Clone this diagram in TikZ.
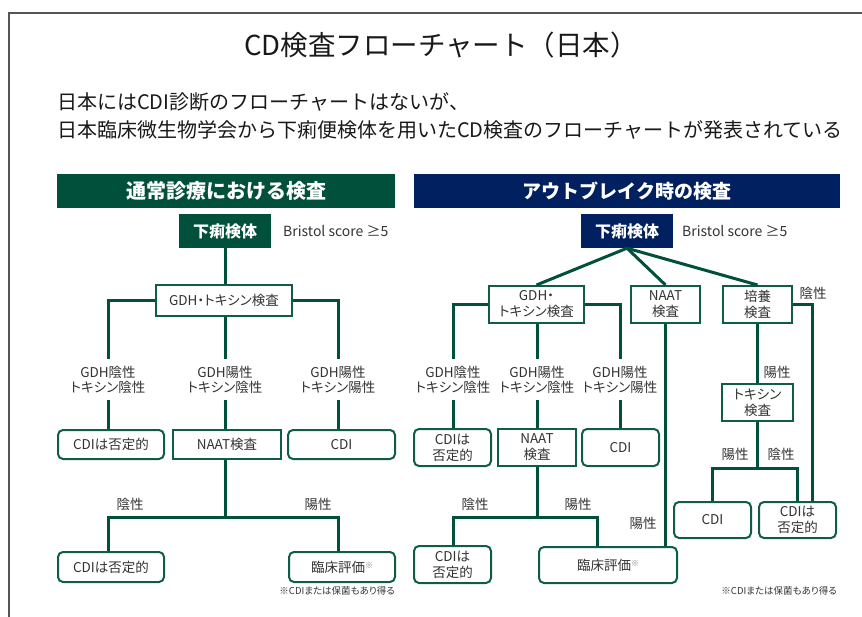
\documentclass[tikz,border=0pt]{standalone}
\usepackage{fontspec}
\setmainfont{Noto Sans CJK JP}
\newfontfamily\jpp[RawFeature=+palt]{Noto Sans CJK JP}
\usetikzlibrary{calc}
\definecolor{dgreen}{HTML}{00503C}
\definecolor{lgreen}{HTML}{0F5C48}
\definecolor{navy}{HTML}{002060}
\definecolor{framec}{HTML}{555555}
\definecolor{txt}{HTML}{333333}
\tikzset{
 hdrbar/.style={fill=#1, text=white, minimum height=34pt, inner sep=0pt},
 srcbox/.style={fill=#1, text=white, minimum width=92pt, minimum height=34pt, inner sep=0pt, font=\fontsize{16}{16}\selectfont\bfseries},
 sqbox/.style={draw=lgreen, line width=2pt, fill=white, text=txt, inner sep=0pt, align=center, font=\jpp\fontsize{13.5}{16}\selectfont},
 rbox/.style={sqbox, rounded corners=5pt},
 lbl/.style={text=txt, inner sep=7pt, align=center, font=\jpp\fontsize{13.5}{15}\selectfont},
 conn/.style={draw=dgreen, line width=3pt},
 notetxt/.style={text=txt, inner sep=0pt, font=\jpp\fontsize{9.5}{9.5}\selectfont},
 bristol/.style={text=txt, inner sep=0pt, font=\fontsize{14}{14}\selectfont},
}
\newcommand{\kome}{\raisebox{0.45ex}{\fontsize{8}{8}\selectfont\color{gray}※}}
\begin{document}
\begin{tikzpicture}[x=1pt,y=-1pt]
\useasboundingbox (0,0) rectangle (862,617);
\draw[framec, line width=2pt] (9,617) -- (9,13) -- (862,13);

\node[text=black!90, font=\fontsize{27.5}{27.5}\selectfont] (title) at (441,45) {CD検査フローチャート（日本）};
\node[anchor=west, align=left, text=black!90, font=\fontsize{20}{28}\selectfont, inner sep=0pt] (sub) at (57,116)
 {日本にはCDI診断のフローチャートはないが、\\日本臨床微生物学会から下痢便検体を用いたCD検査のフローチャートが発表されている};

% ---------- left ----------
\node[hdrbar=dgreen, minimum width=338pt, font=\fontsize{20}{20}\selectfont\bfseries] (hL) at (226,191) {通常診療における検査};
\node[srcbox=dgreen] (sL) at (225,231) {下痢検体};
\node[bristol, anchor=west] (bL) at (283,231) {Bristol score ≥5};
\node[sqbox, minimum width=136pt, minimum height=31pt] (gL) at (224,300.5) {GDH・トキシン検査};
\node[lbl] (l1L) at (108,379.5) {GDH陰性\\トキシン陰性};
\node[lbl] (l2L) at (225,379.5) {GDH陽性\\トキシン陰性};
\node[lbl] (l3L) at (338,379.5) {GDH陽性\\トキシン陽性};
\node[rbox, minimum width=106pt, minimum height=29pt] (n1L) at (111,444.5) {CDIは否定的};
\node[sqbox, minimum width=108pt, minimum height=29pt] (aL) at (227,444.5) {NAAT検査};
\node[rbox, minimum width=107pt, minimum height=29pt] (cL) at (341.5,444.5) {CDI};
\coordinate (jL) at (225,517);
\node[lbl] (negL) at (130,504) {陰性};
\node[lbl] (posL) at (318,504) {陽性};
\node[rbox, minimum width=106pt, minimum height=30pt] (n2L) at (111,567) {CDIは否定的};
\node[rbox, minimum width=106pt, minimum height=30pt] (eL) at (342,567) {臨床評価\kome};
\node[notetxt, anchor=east] (ntL) at (395,591) {※CDIまたは保菌もあり得る};

\draw[conn] (sL.south) -- (sL.south |- gL.north);
\draw[conn] (gL.west) -| (l1L.north);
\draw[conn] (gL.east) -| (l3L.north);
\draw[conn] (gL.south -| l2L) -- (l2L.north);
\draw[conn] (l1L.south) -- (l1L.south |- n1L.north);
\draw[conn] (l2L.south) -- (l2L.south |- aL.north);
\draw[conn] (l3L.south) -- (l3L.south |- cL.north);
\draw[conn] (aL.south -| jL) -- (jL);
\draw[conn] (n2L.north -| l1L) |- (jL) -| (eL.north -| l3L);

% ---------- right ----------
\node[hdrbar=navy, minimum width=426pt, font=\fontsize{19}{19}\selectfont\bfseries] (hR) at (627,191) {アウトブレイク時の検査};
\node[srcbox=navy] (sR) at (627,231) {下痢検体};
\node[bristol, anchor=west] (bR) at (682,231) {Bristol score ≥5};
\node[sqbox, minimum width=95pt, minimum height=37pt] (gR) at (536.5,304.5) {GDH・\\トキシン検査};
\node[sqbox, minimum width=69pt, minimum height=37pt] (aR) at (665.5,304.5) {NAAT\\検査};
\node[sqbox, minimum width=69pt, minimum height=37pt] (kR) at (757.5,304.5) {培養\\検査};
\node[lbl] (ngK) at (813,293) {陰性};
\node[lbl] (l1R) at (453,379.5) {GDH陰性\\トキシン陰性};
\node[lbl] (l2R) at (537,379.5) {GDH陽性\\トキシン陰性};
\node[lbl] (l3R) at (620,379.5) {GDH陽性\\トキシン陽性};
\node[rbox, minimum width=77pt, minimum height=37pt] (n1R) at (452.5,447.5) {CDIは\\否定的};
\node[sqbox, minimum width=78pt, minimum height=37pt] (a2R) at (537,447.5) {NAAT\\検査};
\node[rbox, minimum width=77pt, minimum height=37pt] (cR) at (620.5,447.5) {CDI};
\coordinate (jR) at (537,517);
\node[lbl] (negR) at (475,504) {陰性};
\node[lbl] (posR) at (578,504) {陽性};
\node[rbox, minimum width=77pt, minimum height=37pt] (n2R) at (452.5,564.5) {CDIは\\否定的};
\node[rbox, minimum width=138pt, minimum height=36pt] (eR) at (608,565) {臨床評価\kome};
\node[lbl] (posN) at (643,523) {陽性};
\node[sqbox, minimum width=71pt, minimum height=37pt] (tR) at (757.5,402.5) {トキシン\\検査};
\node[lbl] (posK) at (777,372) {陽性};
\coordinate (jT) at (757.5,468);
\node[lbl] (posT) at (735,454) {陽性};
\node[lbl] (negT) at (781,454) {陰性};
\node[rbox, minimum width=77pt, minimum height=36pt] (c2R) at (712.5,520) {CDI};
\node[rbox, minimum width=77pt, minimum height=36pt] (n3R) at (797.5,520) {CDIは\\否定的};
\node[notetxt, anchor=east] (ntR) at (837,591) {※CDIまたは保菌もあり得る};

\draw[conn] (sR.south) -- (gR.north);
\draw[conn] (sR.south) -- (aR.north);
\draw[conn] (sR.south) -- (kR.north);
\draw[conn] (gR.west) -| (l1R.north);
\draw[conn] (gR.east) -| (l3R.north);
\draw[conn] (gR.south -| l2R) -- (l2R.north);
\draw[conn] (l1R.south) -- (l1R.south |- n1R.north);
\draw[conn] (l2R.south) -- (l2R.south |- a2R.north);
\draw[conn] (l3R.south) -- (l3R.south |- cR.north);
\draw[conn] (a2R.south -| jR) -- (jR);
\draw[conn] (n2R.north -| l1R) |- (jR) -| ($(eR.north)+(-11,0)$);
\draw[conn] (aR.south) -- (aR.south |- eR.north);
\draw[conn] (kR.south) -- (tR.north);
\draw[conn] (kR.east) -| ($(n3R.north)+(14.5,0)$);
\draw[conn] (tR.south) -- (jT);
\draw[conn] (c2R.north) |- (jT) -| (n3R.north);
\end{tikzpicture}
\end{document}
